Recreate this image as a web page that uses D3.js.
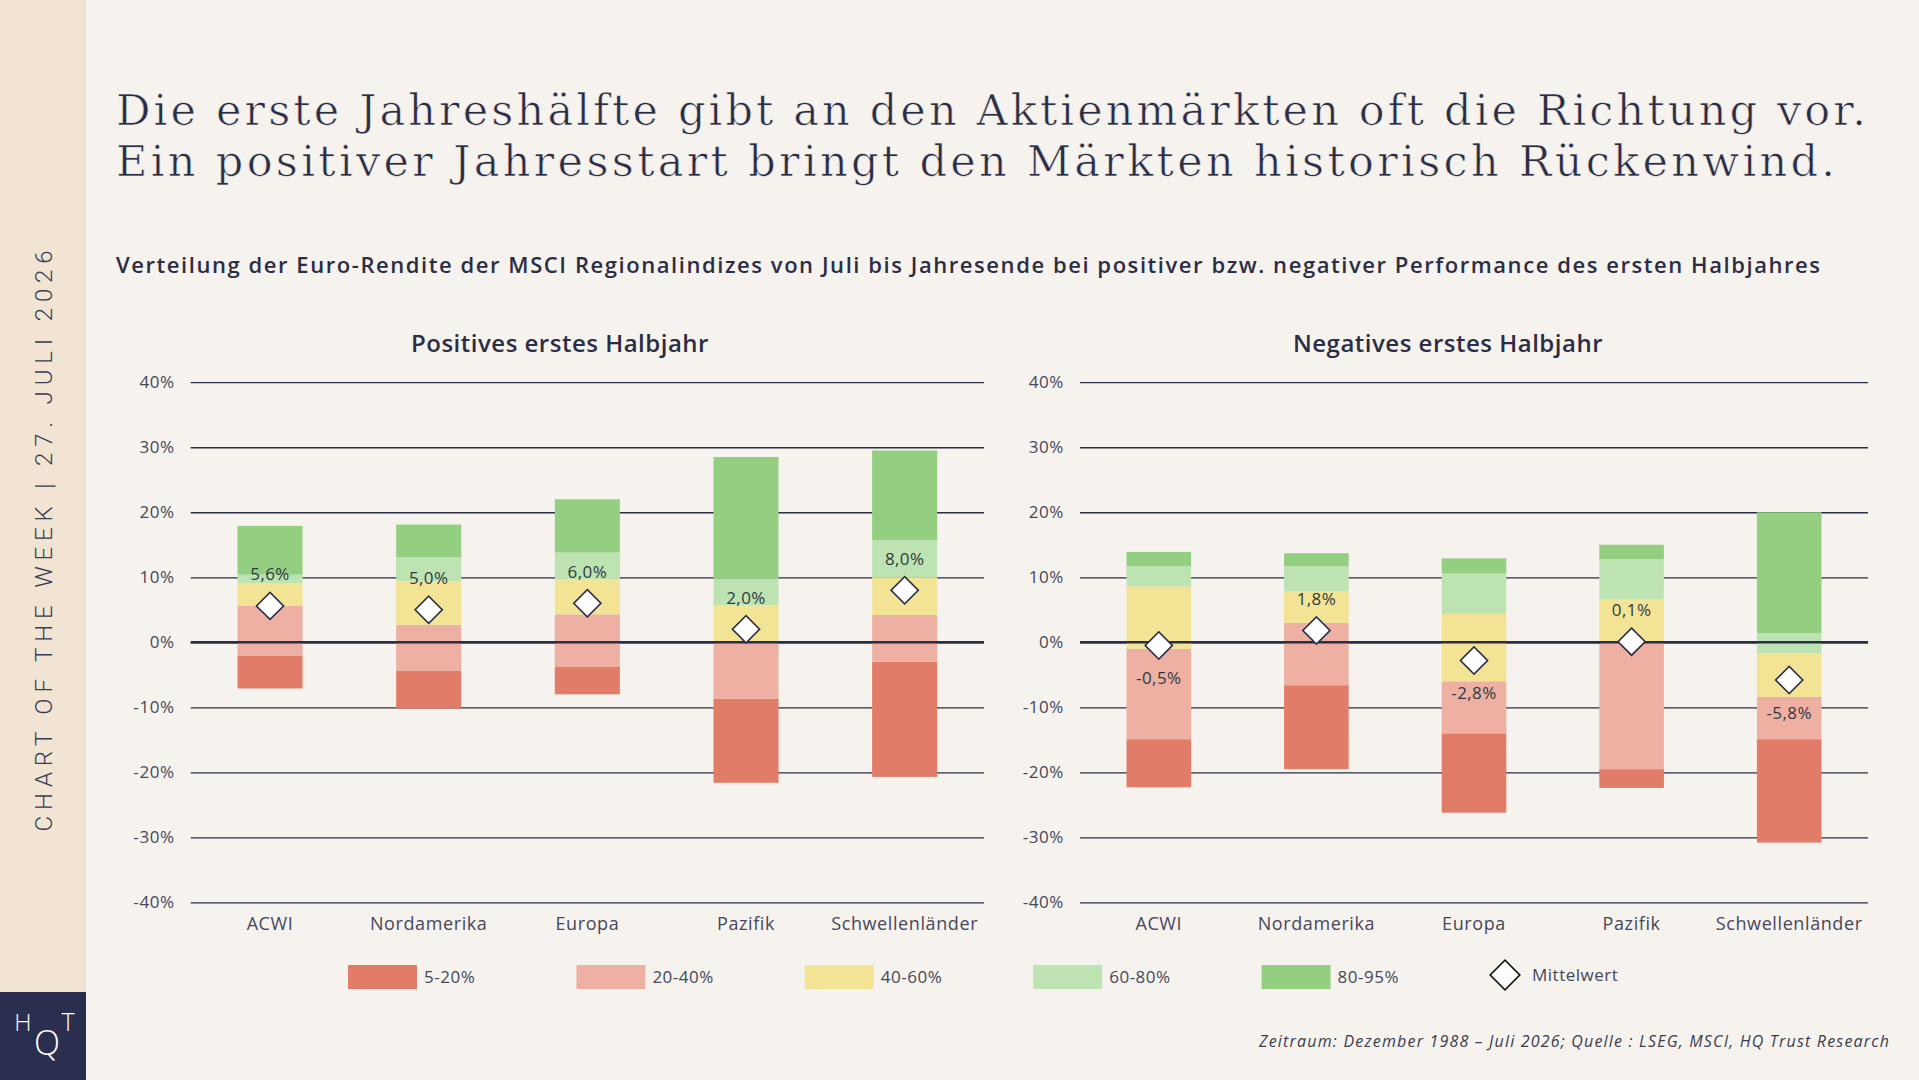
<!DOCTYPE html>
<html><head><meta charset="utf-8">
<script src="https://cdn.jsdelivr.net/npm/d3@7"></script>
<style>
html,body{margin:0;padding:0;background:#F6F3EE;}
svg{display:block;}
</style></head>
<body>
<svg id="c" width="1919" height="1080"></svg>
<script>
// ---------- DATA ----------
const categories = ["ACWI","Nordamerika","Europa","Pazifik","Schwellenländer"];
const yTicks = [-40,-30,-20,-10,0,10,20,30,40];
const bandNames = ["5-20%","20-40%","40-60%","60-80%","80-95%"];
const bandColors = ["#E17C68","#EDB0A3","#F2E395","#BEE3B2","#93CE81"];

// Positives erstes Halbjahr: percentiles
const posP5  = [-7.1,-10.2,-8.0,-21.6,-20.7];
const posP20 = [-2.1,-4.4,-3.8,-8.7,-3.0];
const posP40 = [5.6,2.7,4.3,0.0,4.2];
const posP60 = [9.1,9.4,9.7,5.7,10.0];
const posP80 = [10.4,13.1,13.8,9.8,15.7];
const posP95 = [17.9,18.1,22.0,28.5,29.5];
const posMean = [5.6,5.0,6.0,2.0,8.0];

// Negatives erstes Halbjahr: percentiles
const negP5  = [-22.3,-19.5,-26.2,-22.4,-30.8];
const negP20 = [-14.9,-6.6,-14.0,-19.5,-14.9];
const negP40 = [-1.0,3.0,-6.0,0.0,-8.4];
const negP60 = [8.6,7.9,4.4,6.6,-1.7];
const negP80 = [11.7,11.7,10.6,12.8,1.4];
const negP95 = [13.9,13.7,12.9,15.0,20.0];
const negMean = [-0.5,1.8,-2.8,0.1,-5.8];

const titleText1 = "Die erste Jahreshälfte gibt an den Aktienmärkten oft die Richtung vor.";
const titleText2 = "Ein positiver Jahresstart bringt den Märkten historisch Rückenwind.";
const subtitleText = "Verteilung der Euro-Rendite der MSCI Regionalindizes von Juli bis Jahresende bei positiver bzw. negativer Performance des ersten Halbjahres";
const sideText = "CHART OF THE WEEK | 27. JULI 2026";
const footerText = "Zeitraum: Dezember 1988 – Juli 2026; Quelle : LSEG, MSCI, HQ Trust Research";

// ---------- STYLE ----------
const NAVY = "#2B2D45";
const GREY = "#45475A";
const BG = "#F6F3EE";
const SANS = "'Open Sans', 'Noto Sans', sans-serif";
const svg = d3.select("#c");

svg.append("rect").attr("width",1919).attr("height",1080).attr("fill",BG);
// sidebar
svg.append("rect").attr("x",0).attr("y",0).attr("width",86).attr("height",1080).attr("fill","#F2E4D3");
svg.append("rect").attr("x",0).attr("y",992).attr("width",86).attr("height",88).attr("fill","#2A2E4F");
svg.append("text").attr("transform","translate(44,541) rotate(-90)")
  .attr("text-anchor","middle").attr("dominant-baseline","central")
  .attr("font-family","Roboto, 'Open Sans', sans-serif").attr("font-weight",300)
  .attr("font-size",24).attr("fill","#3A3C55")
  .attr("textLength",581).attr("lengthAdjust","spacing").text(sideText);
// logo
const logo = svg.append("g").attr("font-family",SANS).attr("font-weight",300)
  .attr("fill","#FFFFFF").attr("text-anchor","middle");
logo.append("text").attr("x",23).attr("y",1031).attr("font-size",24).text("H");
logo.append("text").attr("x",47).attr("y",1055).attr("font-size",34).text("Q");
logo.append("text").attr("x",68).attr("y",1031).attr("font-size",25).text("T");

// title
const SERIF = "'DejaVu Serif', 'Liberation Serif', serif";
[[titleText1,125,1750],[titleText2,176,1719]].forEach(([t,yy,w])=>{
  svg.append("text").attr("x",116).attr("y",yy)
    .attr("font-family",SERIF).attr("font-size",43)
    .attr("fill",NAVY).attr("stroke",BG).attr("stroke-width",0.7)
    .attr("textLength",w).attr("lengthAdjust","spacing").text(t);
});
// subtitle
svg.append("text").attr("x",116).attr("y",273)
  .attr("font-family",SANS).attr("font-weight",600).attr("font-size",22)
  .attr("fill",NAVY).attr("textLength",1704).attr("lengthAdjust","spacing").text(subtitleText);

// ---------- PANELS ----------
const y = d3.scaleLinear().domain([-40,40]).range([902.4,382.2]);
const fmt = v => (v<0?"-":"") + Math.abs(v).toFixed(1).replace(".",",") + "%";

function drawPanel(x0, x1, title, titleX, p5,p20,p40,p60,p80,p95,mean){
  const g = svg.append("g");
  const x = d3.scaleBand().domain(categories).range([x0,x1]).paddingInner(0.59).paddingOuter(0.295);
  // title
  g.append("text").attr("x",titleX).attr("y",352).attr("text-anchor","middle")
    .attr("font-family",SANS).attr("font-weight",600).attr("font-size",24).attr("letter-spacing",0.5)
    .attr("fill",NAVY).text(title);
  // y axis grid
  const ya = g.append("g").attr("transform",`translate(${x0},0)`)
    .call(d3.axisLeft(y).tickValues(yTicks).tickSize(-(x1-x0)).tickPadding(16).tickFormat(d=>d+"%"));
  ya.select(".domain").remove();
  ya.selectAll(".tick line").attr("stroke",NAVY).attr("stroke-width",1.3);
  ya.selectAll(".tick text").attr("fill",GREY).attr("font-size",17).attr("letter-spacing",0.6)
    .attr("font-family",SANS).attr("font-weight",400);
  // x axis
  const xa = g.append("g").attr("transform",`translate(0,${y(-40)})`)
    .call(d3.axisBottom(x).tickSize(0).tickPadding(15));
  xa.select(".domain").remove();
  xa.selectAll(".tick text").attr("fill",GREY).attr("font-size",18).attr("letter-spacing",0.6)
    .attr("font-family",SANS);
  // stacked bands
  const edges = [p5,p20,p40,p60,p80,p95];
  categories.forEach((c,i)=>{
    for(let k=0;k<5;k++){
      const lo = edges[k][i], hi = edges[k+1][i];
      g.append("rect").attr("x",x(c)).attr("width",x.bandwidth())
        .attr("y",y(hi)).attr("height",Math.max(0,y(lo)-y(hi)))
        .attr("fill",bandColors[k]);
    }
  });
  // zero line
  g.append("line").attr("x1",x0).attr("x2",x1).attr("y1",y(0)).attr("y2",y(0))
    .attr("stroke",NAVY).attr("stroke-width",2.6);
  // means
  const sym = d3.symbol().type(d3.symbolSquare).size(370);
  categories.forEach((c,i)=>{
    const cx = x(c)+x.bandwidth()/2, cy = y(mean[i]);
    g.append("path").attr("d",sym()).attr("transform",`translate(${cx},${cy}) rotate(45)`)
      .attr("fill","#FFFFFF").attr("stroke",NAVY).attr("stroke-width",1.6);
    g.append("text").attr("x",cx).attr("y", mean[i]>=0 ? cy-32 : cy+32)
      .attr("text-anchor","middle").attr("dominant-baseline","central")
      .attr("font-family",SANS).attr("font-size",17).attr("letter-spacing",0.4)
      .attr("fill","#2E3A40").text(fmt(mean[i]));
  });
}
drawPanel(190.7, 984, "Positives erstes Halbjahr", 560, posP5,posP20,posP40,posP60,posP80,posP95,posMean);
drawPanel(1080, 1868, "Negatives erstes Halbjahr", 1448, negP5,negP20,negP40,negP60,negP80,negP95,negMean);

// ---------- LEGEND ----------
const legX = d3.scalePoint().domain(bandNames.concat(["Mittelwert"])).range([348,1490]);
bandNames.forEach((n,k)=>{
  const lx = legX(n);
  svg.append("rect").attr("x",lx).attr("y",965).attr("width",69).attr("height",24).attr("fill",bandColors[k]);
  svg.append("text").attr("x",lx+76).attr("y",983)
    .attr("font-family",SANS).attr("font-size",17).attr("letter-spacing",0.5).attr("fill",GREY).text(n);
});
const mlx = legX("Mittelwert");
svg.append("path").attr("d",d3.symbol().type(d3.symbolSquare).size(440)())
  .attr("transform",`translate(${mlx+15},975) rotate(45)`)
  .attr("fill","#FFFFFF").attr("stroke","#111").attr("stroke-width",1.6);
svg.append("text").attr("x",mlx+42).attr("y",981)
  .attr("font-family",SANS).attr("font-size",17).attr("letter-spacing",0.5).attr("fill",GREY).text("Mittelwert");

// footer
svg.append("text").attr("x",1889).attr("y",1047).attr("text-anchor","end")
  .attr("font-family",SANS).attr("font-style","italic").attr("font-size",16)
  .attr("fill","#3A3C50").attr("textLength",630).attr("lengthAdjust","spacing").text(footerText);
</script>
</body></html>
